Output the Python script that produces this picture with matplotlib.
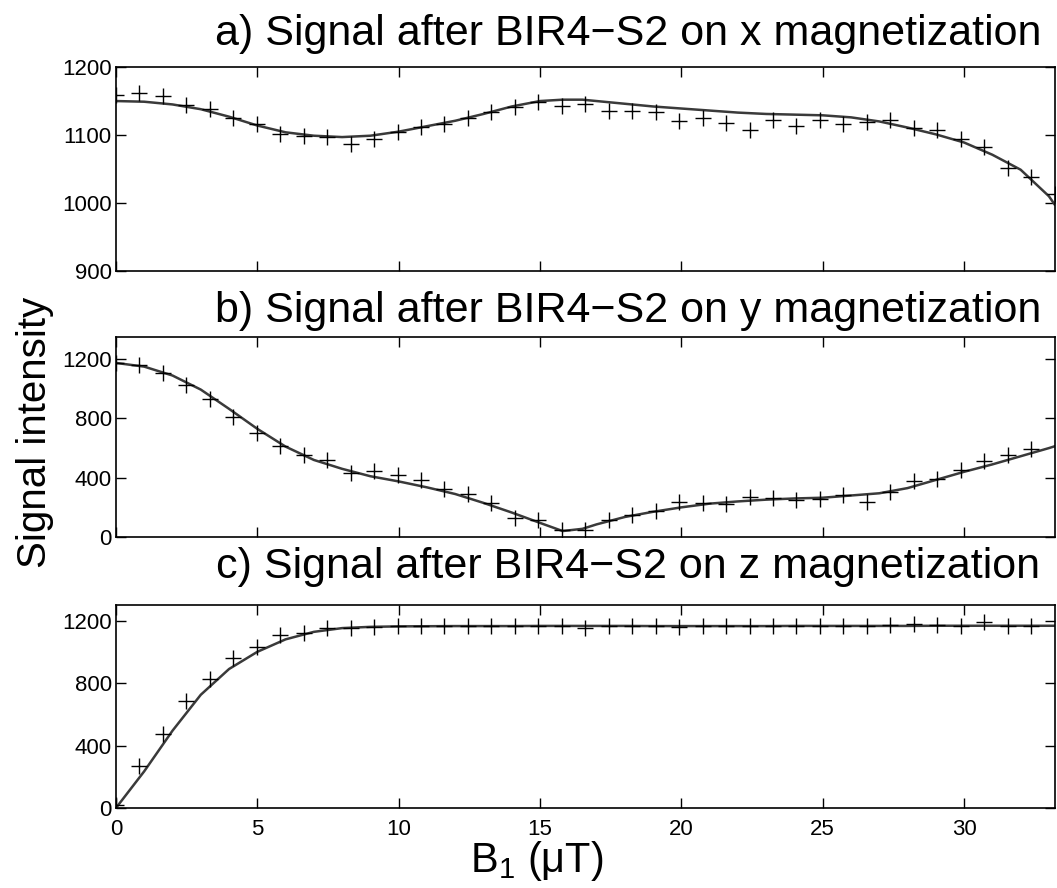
import numpy as np
import matplotlib.pyplot as plt

plt.rcParams['font.family'] = ['Liberation Sans', 'DejaVu Sans']
plt.rcParams['mathtext.fontset'] = 'custom'
plt.rcParams['mathtext.rm'] = 'Liberation Sans'

# measured points (B1 in uT)
b1_pts = [0.00, 0.83, 1.66, 2.49, 3.32, 4.15, 4.98, 5.81, 6.64, 7.47,
          8.30, 9.13, 9.96, 10.79, 11.62, 12.45, 13.28, 14.11, 14.94, 15.77,
          16.60, 17.43, 18.26, 19.09, 19.92, 20.75, 21.58, 22.41, 23.24, 24.07,
          24.90, 25.73, 26.56, 27.39, 28.22, 29.05, 29.88, 30.71, 31.54, 32.37,
          33.20]

sig_x = [1159, 1162, 1157, 1144, 1139, 1125, 1116, 1102, 1098, 1097,
         1087, 1094, 1104, 1112, 1116, 1125, 1134, 1141, 1149, 1143,
         1146, 1136, 1136, 1134, 1121, 1125, 1118, 1107, 1122, 1113,
         1122, 1116, 1119, 1122, 1110, 1107, 1094, 1082, 1051, 1038,
         1014]
sig_y = [1175, 1160, 1110, 1025, 930, 812, 699, 613, 553, 521,
         434, 445, 418, 383, 322, 289, 229, 130, 113, 45,
         45, 113, 147, 175, 235, 229, 225, 269, 265, 247,
         258, 280, 235, 302, 380, 391, 450, 510, 553, 596]
sig_z = [18, 268, 473, 688, 828, 961, 1032, 1107, 1118, 1155,
         1155, 1161, 1167, 1167, 1166, 1168, 1167, 1165, 1168, 1165,
         1150, 1165, 1168, 1166, 1160, 1167, 1165, 1166, 1168, 1163,
         1165, 1167, 1166, 1175, 1177, 1170, 1168, 1190, 1165, 1168]

# simulated curves
fit_b1 = [0, 1, 2, 3, 4, 5, 6, 7, 8, 9, 10, 11, 12, 13, 14, 15, 15.8, 16.5,
          17, 18, 19, 20, 21, 22, 23, 24, 25, 26, 27, 28, 29, 30, 31, 32, 33, 33.2]
fit_x = [1150, 1149, 1145, 1138, 1127, 1114, 1104, 1099, 1097, 1099, 1105,
         1113, 1121, 1131, 1142, 1150, 1152, 1152, 1150, 1146, 1142, 1139,
         1136, 1133, 1131, 1130, 1129, 1126, 1120, 1111, 1101, 1089, 1071,
         1049, 1010, 998]
fit_y = [1175, 1150, 1090, 995, 865, 730, 610, 520, 460, 410, 375, 335, 290,
         230, 165, 95, 40, 55, 85, 135, 170, 200, 225, 240, 252, 260, 265,
         280, 295, 330, 385, 440, 490, 545, 600, 612]
fit_z = [0, 235, 495, 725, 890, 1000, 1080, 1128, 1152, 1160, 1163, 1164, 1165,
         1165, 1165, 1166, 1166, 1166, 1166, 1166, 1165, 1165, 1165, 1165,
         1165, 1166, 1166, 1166, 1166, 1166, 1167, 1167, 1167, 1167, 1167, 1167]

titles = ['a) Signal after BIR4\u2212S2 on x magnetization',
          'b) Signal after BIR4\u2212S2 on y magnetization',
          'c) Signal after BIR4\u2212S2 on z magnetization']
ylims = [(900, 1200), (0, 1350), (0, 1300)]
yticks = [[900, 1000, 1100, 1200], [0, 400, 800, 1200], [0, 400, 800, 1200]]

fig = plt.figure(figsize=(10.57, 8.88), dpi=100)
boxes = [[0.1097, 0.6948, 0.888, 0.2297],
         [0.1097, 0.3953, 0.888, 0.2252],
         [0.1097, 0.0901, 0.888, 0.2286]]
title_y = [0.962, 0.650, 0.361]

data = [(sig_x, fit_x), (sig_y, fit_y), (sig_z, fit_z)]
for i, (pts, fit) in enumerate(data):
    ax = fig.add_axes(boxes[i])
    ax.plot(fit_b1, fit, '-', color='#3a3a3a', lw=1.8)
    ax.plot(b1_pts[:len(pts)], pts, '+', color='black', ms=11, mew=1.0)
    ax.set_xlim(0, 33.2)
    ax.set_ylim(*ylims[i])
    ax.set_yticks(yticks[i])
    ax.set_xticks([0, 5, 10, 15, 20, 25, 30])
    ax.tick_params(direction='in', top=True, right=True, length=7,
                   width=1, labelsize=16, pad=3)
    ax.tick_params(axis='x', pad=8)
    if i < 2:
        ax.set_xticklabels([])
    for s in ax.spines.values():
        s.set_linewidth(1.2)
    fig.text(0.594, title_y[i], titles[i], ha='center', va='center',
             fontsize=31)

fig.text(0.033, 0.513, 'Signal intensity', rotation=90, ha='center',
         va='center', fontsize=29)
fig.text(0.508, 0.030, r'B$_\mathregular{1}$ ($\mathregular{\mu}$T)',
         ha='center', va='center', fontsize=30)

fig.savefig('out.png', dpi=100)
